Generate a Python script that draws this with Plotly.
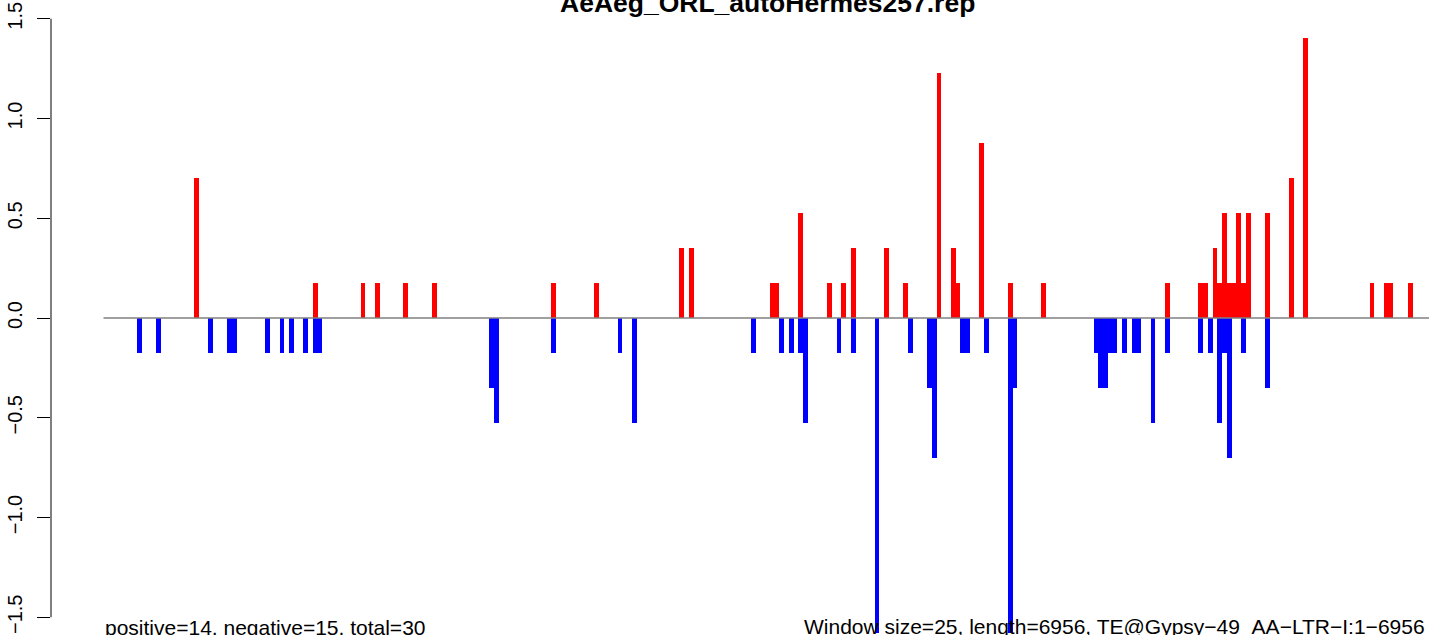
import plotly.graph_objects as go

# ---- data (window index -> value) ----
pos_windows = [19, 44, 54, 57, 63, 69, 94, 103, 121, 123, 140, 141, 146, 152, 155, 157,
               164, 168, 175, 178, 179, 184, 190, 197, 223, 230, 231, 233, 234, 235, 236,
               237, 238, 239, 240, 244, 249, 252, 266, 269, 270, 274]
pos_values = [0.703, 0.176, 0.176, 0.176, 0.176, 0.176, 0.176, 0.176, 0.351, 0.351, 0.176,
              0.176, 0.527, 0.176, 0.176, 0.351, 0.351, 0.176, 1.230, 0.351, 0.176, 0.878,
              0.176, 0.176, 0.176, 0.176, 0.176, 0.351, 0.176, 0.527, 0.176, 0.176, 0.527,
              0.176, 0.527, 0.527, 0.703, 1.405, 0.176, 0.176, 0.176, 0.176]

neg_windows = [7, 11, 22, 26, 27, 34, 37, 39, 42, 44, 45, 81, 82, 94, 108, 111, 136, 142,
               144, 146, 147, 154, 157, 162, 169, 173, 174, 180, 181, 185, 190, 191, 208,
               209, 210, 211, 212, 214, 216, 217, 220, 223, 230, 232, 234, 235, 236, 239, 244]
neg_values = [-0.176, -0.176, -0.176, -0.176, -0.176, -0.176, -0.176, -0.176, -0.176,
              -0.176, -0.176, -0.351, -0.527, -0.176, -0.176, -0.527, -0.176, -0.176,
              -0.176, -0.176, -0.527, -0.176, -0.176, -1.581, -0.176, -0.351, -0.703,
              -0.176, -0.176, -0.176, -1.581, -0.351, -0.176, -0.351, -0.351, -0.176,
              -0.176, -0.176, -0.176, -0.176, -0.527, -0.176, -0.176, -0.176, -0.527,
              -0.176, -0.703, -0.176, -0.351]

n_windows = 279
y_ticks = [-1.5, -1.0, -0.5, 0.0, 0.5, 1.0, 1.5]
y_tick_text = ["\u22121.5", "\u22121.0", "\u22120.5", "0.0", "0.5", "1.0", "1.5"]

title_text = "AeAeg_ORL_autoHermes257.rep"
left_note = "positive=14, negative=15, total=30"
right_note = "Window size=25, length=6956, TE@Gypsy\u221249_AA\u2212LTR\u2212I:1\u22126956"

FONT = "Liberation Sans, Arial, Helvetica, sans-serif"

fig = go.Figure()
fig.add_trace(go.Bar(x=[w + 0.5 for w in pos_windows], y=pos_values, width=1,
                     marker=dict(color="#FF0000", line=dict(width=0)), hoverinfo="skip"))
fig.add_trace(go.Bar(x=[w + 0.5 for w in neg_windows], y=neg_values, width=1,
                     marker=dict(color="#0000FF", line=dict(width=0)), hoverinfo="skip"))

W, H = 1429, 635
left = 51
px_per_win = 4.76
x0_px = 103.5
xr = [-(x0_px - left) / px_per_win, (W - x0_px) / px_per_win]
px_per_unit = 199.5
zero_px = 318
yr = [-(H - zero_px) / px_per_unit, zero_px / px_per_unit]

fig.update_layout(
    width=W, height=H,
    margin=dict(l=left, r=0, t=0, b=0),
    paper_bgcolor="white", plot_bgcolor="white",
    showlegend=False, barmode="overlay", bargap=0,
    font=dict(family=FONT, color="black"),
    xaxis=dict(visible=False, range=xr, fixedrange=True),
    yaxis=dict(range=yr, tickvals=y_ticks, ticktext=y_tick_text, tickangle=-90,
               ticks="outside", ticklen=13, tickwidth=1, tickcolor="black",
               ticklabelstandoff=7,
               showline=False, showgrid=False, zeroline=False,
               tickfont=dict(size=20, family=FONT, color="black"), fixedrange=True),
    shapes=[
        dict(type="line", xref="paper", yref="y", x0=0, x1=0, y0=-1.5, y1=1.5,
             line=dict(color="black", width=1)),
        dict(type="line", xref="x", yref="y", x0=0, x1=n_windows + 20, y0=0, y1=0,
             line=dict(color="#808080", width=1.5), layer="above"),
    ],
    annotations=[
        dict(text="<b>" + title_text + "</b>", xref="paper", yref="y",
             x=(767.5 - left) / (W - left), y=(zero_px - 2.5) / px_per_unit,
             xanchor="center", yanchor="middle", showarrow=False,
             font=dict(size=26.5, family=FONT, color="black")),
        dict(text=left_note, xref="paper", yref="y",
             x=(103 - left) / (W - left), y=(zero_px - 627) / px_per_unit,
             xanchor="left", yanchor="middle", showarrow=False,
             font=dict(size=21, family=FONT, color="black")),
        dict(text=right_note, xref="paper", yref="y",
             x=(802 - left) / (W - left), y=(zero_px - 627) / px_per_unit,
             xanchor="left", yanchor="middle", showarrow=False,
             font=dict(size=21, family=FONT, color="black")),
    ],
)

fig.write_html(
    "out.html",
    config={"displayModeBar": False},
    post_script="document.body.style.margin='0';document.body.style.padding='0';"
                "document.body.style.overflow='hidden';",
)
